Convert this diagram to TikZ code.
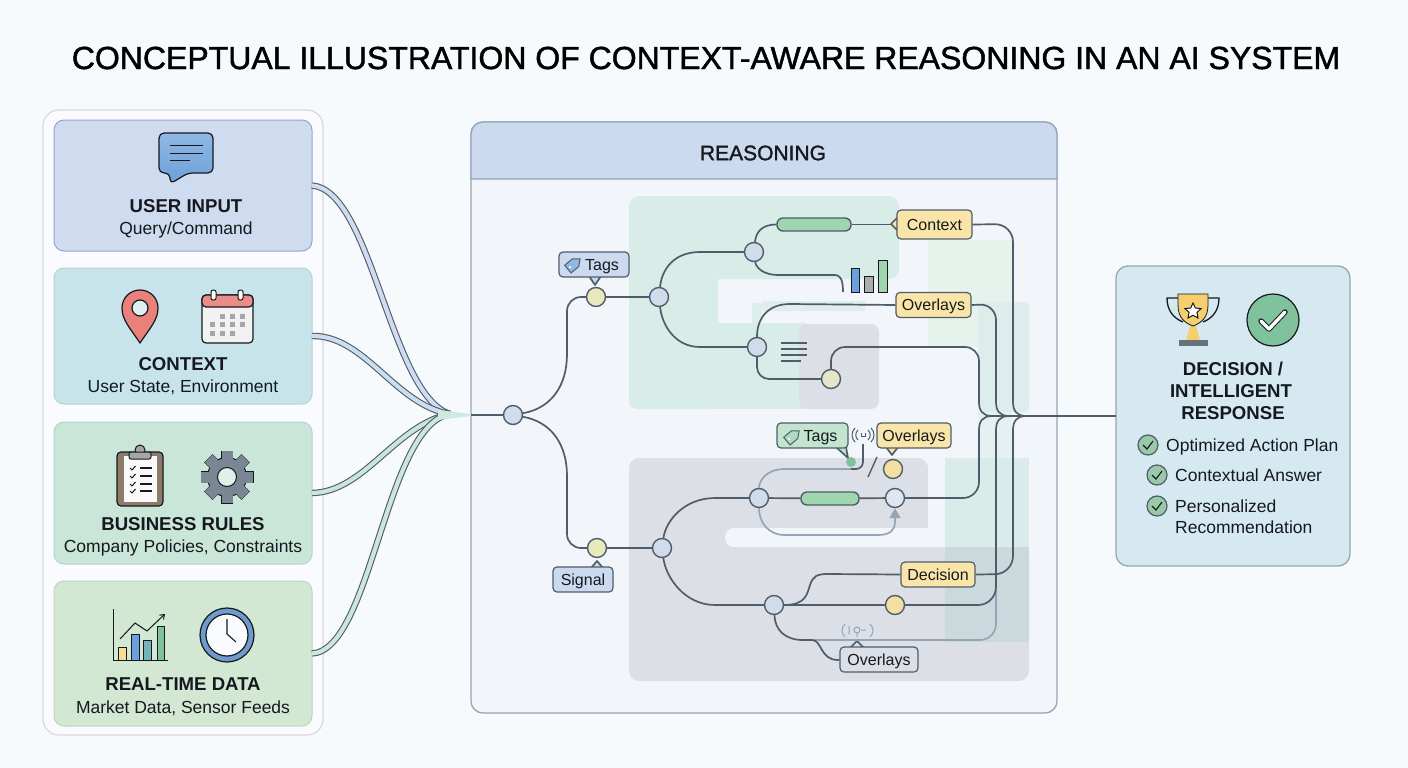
\documentclass[tikz,border=0pt]{standalone}
\usepackage{fontspec}
\usetikzlibrary{arrows.meta}
\setmainfont{Liberation Sans}
\newfontfamily\titleFace[FakeBold=1.4]{Liberation Sans}
\newcommand{\titleSize}{\fontsize{32}{36}\titleFace}
\newcommand{\panelSize}{\fontsize{21}{24}\titleFace}
\newcommand{\headSize}{\fontsize{18.6}{22}\selectfont\bfseries}
\newcommand{\bodySize}{\fontsize{17.5}{21}\selectfont}
\newcommand{\tagSize}{\fontsize{16}{18}\selectfont}
\newcommand{\wireWidth}{1.7pt}
\definecolor{pageBack}{HTML}{F6FAFD}
\definecolor{panelBack}{HTML}{F2F5FA}
\definecolor{wireDark}{HTML}{4F5D6B}
\definecolor{wireLight}{HTML}{96A5B6}
\definecolor{inkDark}{HTML}{15191F}
\definecolor{blockMint}{HTML}{D8ECE8}
\definecolor{blockGrey}{HTML}{DCDFE6}
\definecolor{blockPale}{HTML}{E6F2EC}
\definecolor{blockDeep}{HTML}{C9D9DC}
\definecolor{nodeBlue}{HTML}{D0DBEC}
\definecolor{nodeYellow}{HTML}{E9E7BC}
\definecolor{nodeGold}{HTML}{F3DFA0}
\definecolor{tagYellow}{HTML}{FAE5A8}
\definecolor{tagBlue}{HTML}{CBDAEE}
\definecolor{tagGreen}{HTML}{C4E4CF}
\definecolor{pillGreen}{HTML}{9FD6B0}
\definecolor{cardBlue}{HTML}{CFDCF0}
\definecolor{cardTeal}{HTML}{C6E4EA}
\definecolor{cardMint}{HTML}{C9E6D9}
\definecolor{cardGreen}{HTML}{D2E8D3}
\definecolor{cardOut}{HTML}{D6E9F1}
\definecolor{gearGrey}{HTML}{7A8693}
\definecolor{redSoft}{HTML}{E9807A}
\definecolor{iconBlue}{HTML}{6BA0DA}
\definecolor{iconTeal}{HTML}{74B3BA}
\definecolor{iconGreen}{HTML}{7FC29B}
\definecolor{iconGold}{HTML}{F5CF6E}
\definecolor{boardBrown}{HTML}{8C7B69}

\begin{document}
\begin{tikzpicture}[x=1pt,y=-1pt]
\tikzstyle{sideCard}=[rounded corners=10pt,minimum width=258pt,draw,line width=1pt,outer sep=0pt]
\tikzstyle{wire}=[draw=wireDark,line width=\wireWidth]
\tikzstyle{softWire}=[draw=wireLight,line width=\wireWidth]
\tikzstyle{tube}=[draw=wireDark,line width=1.1pt,double distance=4.2pt]
\tikzstyle{hubBlue}=[circle,draw=wireDark,line width=1.4pt,fill=nodeBlue,minimum size=19pt,inner sep=0pt]
\tikzstyle{hubYellow}=[hubBlue,fill=nodeYellow]
\tikzstyle{tagBox}=[rectangle,rounded corners=4pt,draw=wireDark,line width=1.2pt,minimum height=25pt,inner sep=0pt,text=inkDark,font=\tagSize,text height=11.5pt,text depth=0pt]
\tikzstyle{pillBar}=[rectangle,rounded corners=6pt,draw=wireDark,line width=1.4pt,fill=pillGreen,inner sep=0pt,minimum height=13pt]
\tikzstyle{headText}=[text=inkDark,font=\headSize,inner sep=0pt,text height=13.4pt,text depth=0pt]
\tikzstyle{bodyText}=[text=inkDark,font=\bodySize,inner sep=0pt,text height=12.6pt,text depth=0pt]
\tikzstyle{listText}=[bodyText,anchor=west]
\tikzstyle{iconLine}=[draw=inkDark,line width=1pt]
\tikzstyle{checkDot}=[circle,draw=wireDark,line width=1.2pt,fill=pillGreen!85!gray,minimum size=20pt,inner sep=0pt]
\tikzstyle{bar}=[draw=inkDark,line width=0.9pt]

\fill[pageBack] (0,0) rectangle (1408,768);
\node[text=black,font=\titleSize,inner sep=0pt] (titleText) at (706,58) {CONCEPTUAL ILLUSTRATION OF CONTEXT-AWARE REASONING IN AN AI SYSTEM};

\draw[draw=black!15,fill=white!30!pageBack,line width=1.2pt,rounded corners=16pt] (43,110) rectangle (323,735);
\node[sideCard,minimum height=131pt,fill=cardBlue,draw=cardBlue!80!blue!70!gray] (cardUser) at (183,185.5) {};
\node[sideCard,minimum height=136pt,fill=cardTeal,draw=cardTeal!80!gray] (cardContext) at (183,336) {};
\node[sideCard,minimum height=142pt,fill=cardMint,draw=cardMint!80!gray] (cardRules) at (183,493) {};
\node[sideCard,minimum height=145pt,fill=cardGreen,draw=cardGreen!80!gray] (cardData) at (183,653.5) {};
\node[headText] (userHead) at (186,206) {USER INPUT};
\node[bodyText] (userBody) at (186,228) {Query/Command};
\node[headText] (contextHead) at (183,364) {CONTEXT};
\node[bodyText] (contextBody) at (183,386) {User State, Environment};
\node[headText] (rulesHead) at (183,524) {BUSINESS RULES};
\node[bodyText] (rulesBody) at (183,546) {Company Policies, Constraints};
\node[headText] (dataHead) at (183,684) {REAL-TIME DATA};
\node[bodyText] (dataBody) at (183,707) {Market Data, Sensor Feeds};

% chat icon
\draw[iconLine,top color=iconBlue!75!white,bottom color=iconBlue,line width=1.2pt,rounded corners=5pt] (159,133) -- (213,133) -- (213,173) -- (188,173) -- (170,184) -- (170,173) -- (159,173) -- cycle;
\draw[iconLine] (170,145) -- (203,145) (170,153) -- (203,153) (170,160) -- (190,160);
% pin and calendar
\draw[iconLine,fill=redSoft,line width=1.2pt] (140,343) .. controls (130,328) and (122,320) .. (122,308) .. controls (122,298) and (130,290) .. (140,290) .. controls (150,290) and (158,298) .. (158,308) .. controls (158,320) and (150,328) .. (140,343) -- cycle;
\draw[iconLine,fill=cardTeal!60!white,line width=1.2pt] (140,308) circle (8);
\draw[iconLine,fill=white!90!gray,line width=1.2pt,rounded corners=4pt] (202,295) rectangle (253,343);
\draw[iconLine,fill=redSoft!90!white,line width=1.2pt,rounded corners=4pt] (202,295) -- (253,295) -- (253,307) -- (202,307) -- cycle;
\draw[iconLine,fill=white,rounded corners=2pt] (211,290) rectangle (216,300);
\draw[iconLine,fill=white,rounded corners=2pt] (238,290) rectangle (243,300);
\foreach \cx/\cy in {222/316,232/316,242/316,212/324,222/324,232/324,242/324,212/333,222/333,232/333}
  \fill[black!35] (\cx-2.5,\cy-2.5) rectangle (\cx+2.5,\cy+2.5);
% clipboard and gear
\draw[iconLine,fill=boardBrown,line width=1.2pt,rounded corners=4pt] (117,452) rectangle (163,506);
\fill[white!95!gray] (124,456) rectangle (157,502);
\draw[iconLine,fill=black!35,line width=1pt] (140,450) circle (5);
\draw[iconLine,fill=black!35,rounded corners=2pt] (129,452) rectangle (151,459);
\foreach \cy in {468,476,484,491} {
  \draw[iconLine] (130,\cy) -- (132,\cy+2) -- (135.5,\cy-2);
  \draw[iconLine,line width=1.2pt] (140,\cy) -- (152,\cy);
}
\foreach \a in {0,45,...,315}
  \draw[iconLine,fill=gearGrey,rotate around={\a:(227,477)}] (221.5,451) rectangle (232.5,462);
\draw[iconLine,fill=gearGrey] (227,477) circle (19.5);
\foreach \a in {0,45,...,315}
  \fill[gearGrey,rotate around={\a:(227,477)}] (221.5,451) rectangle (232.5,462);
\draw[iconLine,fill=cardMint!60!white,line width=1pt] (227,477) circle (9.5);
% chart and clock
\draw[bar,fill=tagYellow!90!orange] (118,647) rectangle (126,660);
\draw[bar,fill=iconBlue] (131,634) rectangle (139,660);
\draw[bar,fill=iconTeal] (143,640) rectangle (151,660);
\draw[bar,fill=iconGreen] (157,626) rectangle (164,660);
\draw[iconLine] (113,609) -- (113,660) -- (168,660);
\draw[iconLine,-{Straight Barb[length=4pt,width=6pt]}] (120,639) -- (135,623) -- (147,631) -- (165,614);
\draw[iconLine,fill=iconBlue!85!gray,line width=1.2pt] (227,635) circle (27);
\draw[iconLine,fill=white!90!cardBlue,line width=1.2pt] (227,635) circle (21);
\draw[iconLine,line width=1.1pt] (227,619) -- (227,634) -- (236,642);

% reasoning panel
\draw[draw=wireLight,fill=panelBack,line width=1.3pt,rounded corners=12pt] (471,122) rectangle (1057,713);
\draw[draw=wireLight,fill=tagBlue,line width=1.3pt] (471,179) [rounded corners=12pt] -- (471,122) -- (1057,122) [sharp corners] -- (1057,179) -- cycle;
\node[text=inkDark,font=\panelSize,inner sep=0pt] (panelHead) at (763,153) {REASONING};
\fill[blockMint,rounded corners=10pt] (629,196) rectangle (899,279);
\fill[blockMint,rounded corners=8pt] (629,260) rectangle (718,409);
\fill[blockMint] (710,323) rectangle (805,409);
\fill[blockMint!80!panelBack] (752,303) rectangle (762,323);
\fill[blockMint!80!panelBack] (762,301) rectangle (865,311);
\fill[blockGrey,rounded corners=8pt] (799,324) rectangle (879,409);
\fill[blockPale] (928,240) rectangle (1012,347);
\fill[blockMint!85!panelBack,rounded corners=6pt] (978,302) rectangle (1029,412);
\fill[blockMint!50!panelBack] (978,412) rectangle (1012,458);
\fill[blockGrey,rounded corners=10pt] (629,458) rectangle (928,560);
\fill[blockGrey,rounded corners=10pt] (629,547) rectangle (1029,681);
\fill[blockGrey] (629,480) rectangle (730,600);
\fill[panelBack,rounded corners=9pt] (725,528) rectangle (955,547);
\fill[panelBack] (928,528) rectangle (945,547);
\fill[blockMint!95!panelBack] (945,458) rectangle (1029,547);
\fill[blockDeep] (945,547) rectangle (1029,642);

% input tubes
\coordinate (tubeJoin) at (450,414);
\coordinate (panelIn) at (471,415);
\draw[tube,double=cardBlue] (cardUser.east) .. controls (372,190) and (390,395) .. (tubeJoin);
\draw[tube,double=cardBlue!70!cardTeal] (cardContext.east) .. controls (365,335) and (395,405) .. (tubeJoin);
\draw[tube,double=cardMint] (cardRules.east) .. controls (365,492) and (395,425) .. (tubeJoin);
\draw[tube,double=cardMint!70!cardGreen] (cardData.east) .. controls (372,650) and (385,425) .. (tubeJoin);
\fill[cardMint!85!white] (438,410) -- (455,412) -- (471,414) -- (471,416) -- (455,418) -- (438,420) -- cycle;

% hubs, bars and tags
\node[hubBlue] (n-0-0) at (513,415) {};
\node[hubYellow] (n-1-0) at (596,297) {};
\node[hubYellow] (n-1-1) at (597,548) {};
\node[hubBlue] (n-2-0) at (659,297) {};
\node[hubBlue] (n-2-1) at (662,548) {};
\node[hubBlue] (n-3-0) at (754,252) {};
\node[hubBlue] (n-3-1) at (757,347) {};
\node[hubBlue] (n-3-2) at (759,498) {};
\node[hubBlue] (n-3-3) at (774,605) {};
\node[hubYellow,fill=nodeYellow!70!blockGrey] (n-4-0) at (831,379) {};
\node[hubBlue,fill=nodeBlue!70!white] (n-4-1) at (895,498) {};
\node[hubYellow,fill=nodeGold] (n-4-2) at (895,605) {};
\node[hubYellow,fill=nodeGold] (n-4-3) at (893,469) {};
\node[pillBar,minimum width=74pt] (pillTop) at (814,224.5) {};
\node[pillBar,minimum width=58pt] (pillMid) at (830,498.5) {};

\draw[wire,fill=tagBlue,line join=round] (589,276) -- (595,285) -- (601,276);
\draw[wire,fill=tagYellow,line join=round] (898,217) -- (891,224) -- (898,231);
\draw[wire,fill=tagGreen,line join=round] (836,447) -- (848,458) -- (846,447);
\draw[wire,fill=tagYellow,line join=round] (886,447) -- (892,455) -- (898,447);
\draw[wire,fill=tagBlue,line join=round] (591,568) -- (597,561) -- (603,568);
\draw[wire,fill=blockGrey,line join=round] (850,648) -- (857,641) -- (864,648);
\node[tagBox,fill=tagBlue,minimum width=70pt] (tagsTop) at (594,264.5) {\hspace{16pt}Tags};
\node[tagBox,fill=tagYellow,minimum width=75pt,minimum height=29pt] (contextTag) at (934.5,224.5) {Context};
\node[tagBox,fill=tagYellow,minimum width=75pt] (overlaysTop) at (933.5,305) {Overlays};
\node[tagBox,fill=tagGreen,minimum width=71pt] (tagsMid) at (812.5,435.5) {\hspace{16pt}Tags};
\node[tagBox,fill=tagYellow,minimum width=74pt] (overlaysMid) at (914,435.5) {Overlays};
\node[tagBox,fill=tagYellow,minimum width=74pt] (decisionTag) at (938,574.5) {Decision};
\node[tagBox,fill=tagBlue,minimum width=60pt] (signalTag) at (583,579.5) {Signal};
\node[tagBox,fill=blockGrey,minimum width=78pt] (overlaysLow) at (879,659.5) {Overlays};

% tag glyphs
\draw[iconLine,draw=wireDark,fill=iconBlue!60!tagBlue,rotate around={40:(574,264)}] (566,259) -- (576,259) -- (582,264) -- (576,269) -- (566,269) -- cycle;
\fill[white,rotate around={40:(574,264)}] (569,264) circle (1.3);
\draw[iconLine,draw=wireDark,fill=tagGreen!70!iconGreen,rotate around={40:(793,436)}] (785,431) -- (795,431) -- (801,436) -- (795,441) -- (785,441) -- cycle;
\fill[white,rotate around={40:(793,436)}] (788,436) circle (1.3);

% output card
\node[rounded corners=12pt,draw=wireLight,fill=cardOut,line width=1.3pt,minimum width=234pt,minimum height=300pt,outer sep=0pt] (outCard) at (1233,416) {};
\node[headText] (outHeadA) at (1233,369) {DECISION /};
\node[headText] (outHeadB) at (1231,391) {INTELLIGENT};
\node[headText] (outHeadC) at (1233,413) {RESPONSE};
\node[checkDot] (checkA) at (1148,445) {};
\node[checkDot] (checkB) at (1157,475) {};
\node[checkDot] (checkC) at (1157,506) {};
\foreach \dotName in {checkA,checkB,checkC}
  \draw[iconLine,line width=1.1pt] ([xshift=-5pt,yshift=0pt]\dotName.center) -- ([xshift=-1pt,yshift=-4pt]\dotName.center) -- ([xshift=5pt,yshift=4pt]\dotName.center);
\node[listText] (itemA) at (1166,445) {Optimized Action Plan};
\node[listText] (itemB) at (1175,475) {Contextual Answer};
\node[listText] (itemC) at (1175,506) {Personalized};
\node[listText] (itemD) at (1175,527) {Recommendation};
% trophy and tick
\draw[iconLine,line width=1.3pt] (1179,298) -- (1167,298) .. controls (1167,310) and (1173,318) .. (1183,322);
\draw[iconLine,line width=1.3pt] (1207,298) -- (1219,298) .. controls (1219,310) and (1213,318) .. (1203,322);
\fill[iconGold] (1186,340) -- (1200,340) -- (1197,330) -- (1196,325) -- (1190,325) -- (1189,330) -- cycle;
\draw[iconLine,fill=iconGold,line width=0.8pt] (1178,294) -- (1208,294) -- (1208,305) .. controls (1208,318) and (1201,323) .. (1193,326) .. controls (1185,323) and (1178,318) .. (1178,305) -- cycle;
\draw[iconLine,fill=white] (1193,303) -- (1195.4,308) -- (1201,308.6) -- (1197,312.4) -- (1198,318) -- (1193,315.3) -- (1188,318) -- (1189,312.4) -- (1185,308.6) -- (1190.6,308) -- cycle;
\fill[gearGrey!85!black] (1179,340) rectangle (1208,346);
\node[circle,draw=inkDark,line width=1.2pt,fill=iconGreen,minimum size=52pt,inner sep=0pt] (tickBadge) at (1273,320) {};
\draw[draw=inkDark,line width=5.4pt,line cap=round,line join=round] (1261,321) -- (1269,329) -- (1285,312);
\draw[draw=white,line width=3.4pt,line cap=round,line join=round] (1261,321) -- (1269,329) -- (1285,312);

% bars and list marks inside reasoning
\draw[bar,fill=iconBlue] (851,268) rectangle (859,292);
\draw[bar,fill=black!32] (864,276) rectangle (873,292);
\draw[bar,fill=pillGreen] (878,260) rectangle (887,292);
\draw[wire,line width=1.3pt] (781,343) -- (807,343) (781,349) -- (807,349) (781,355) -- (807,355) (781,361) -- (801,361);

% soft wires
\coordinate (softStart) at (812,640);
\coordinate (softEnd) at (996,590);
\coordinate (loopEnd) at (852,469);
\draw[softWire,rounded corners=16pt] (softStart) -- (996,640) -- (softEnd);
\draw[softWire] (n-3-2) .. controls (759,482) and (765,469) .. (785,469) -- (loopEnd);
\draw[softWire] (n-3-2) .. controls (759,522) and (768,535) .. (785,535) -- (878,535) .. controls (890,535) and (895,530) .. (895,522);
\draw[-{Triangle[width=11pt,length=10pt]},draw=wireLight,fill=wireLight,line width=\wireWidth] (895,522) -- (n-4-1);

% wires
\coordinate (panelOut) at (1040,416);
\coordinate (barEnd) at (843,292);
\draw[wire] (panelIn) -- (n-0-0);
\draw[wire,rounded corners=14pt] (n-0-0) .. controls (552,408) and (567,385) .. (567,340) -- (567,297) -- (n-1-0);
\draw[wire,rounded corners=14pt] (n-0-0) .. controls (552,422) and (567,445) .. (567,490) -- (567,548) -- (n-1-1);
\draw[wire] (n-1-0) -- (n-2-0);
\draw[wire] (n-1-1) -- (n-2-1);
\draw[wire] (n-2-0) .. controls (662,268) and (675,252) .. (700,252) -- (n-3-0);
\draw[wire] (n-2-0) .. controls (662,325) and (675,347) .. (700,347) -- (n-3-1);
\draw[wire] (n-3-0) .. controls (756,232) and (762,224.5) .. (pillTop.west);
\draw[wire] (pillTop.east) -- (891,224.5);
\draw[wire] (n-3-0) .. controls (756,268) and (764,275) .. (778,275) -- (835,275) .. controls (840,275) and (843,279) .. (barEnd);
\draw[wire] (n-3-1) .. controls (757,318) and (768,304) .. (790,304) -- (overlaysTop.west);
\draw[wire,rounded corners=12pt] (n-3-1) -- (757,379) -- (n-4-0);
\draw[wire] (n-4-0) [rounded corners=14pt] -- (831,347) -- (979,347) [sharp corners] -- (979,402) .. controls (979,411) and (983,416) .. (992,416) -- (panelOut);
\draw[wire] (overlaysTop.east) [rounded corners=16pt] -- (996,304) [sharp corners] -- (996,402) .. controls (996,411) and (1000,416) .. (1009,416) -- (panelOut);
\draw[wire] (contextTag.east) [rounded corners=18pt] -- (1013,224) [sharp corners] -- (1013,402) .. controls (1013,411) and (1017,416) .. (1026,416) -- (panelOut);
\draw[wire] (panelOut) -- (outCard.west);
\draw[wire] (n-4-1) [rounded corners=16pt] -- (979,498) [sharp corners] -- (979,430) .. controls (979,421) and (983,416) .. (992,416);
\draw[wire] (n-4-2) [rounded corners=18pt] -- (996,605) [sharp corners] -- (996,430) .. controls (996,421) and (1000,416) .. (1009,416);
\draw[wire] (decisionTag.east) [rounded corners=18pt] -- (1013,574) [sharp corners] -- (1013,430) .. controls (1013,421) and (1017,416) .. (1026,416);
\draw[wire] (n-3-2) -- (pillMid);
\draw[wire] (pillMid) -- (n-4-1);
\draw[wire] (n-2-1) .. controls (666,520) and (685,498) .. (715,498) -- (n-3-2);
\draw[wire] (n-2-1) .. controls (666,578) and (685,605) .. (715,605) -- (n-3-3);
\draw[wire] (n-3-3) -- (n-4-2);
\draw[wire] (n-3-3.east) .. controls (806,605) and (807,594) .. (810,585) .. controls (813,576) and (817,574) .. (828,574) -- (decisionTag.west);
\draw[wire] (n-3-3) .. controls (775,630) and (785,640) .. (803,640) -- (812,640) .. controls (822,640) and (820,660) .. (838,660) -- (overlaysLow.west);

% signal marks
\node[circle,fill=iconGreen,minimum size=10pt,inner sep=0pt] (dotGreen) at (851,462) {};
\draw[wire,rounded corners=7pt] (863,444) -- (863,469) -- (dotGreen |- 0,469);
\draw[wireDark,line width=1pt] (855,428) .. controls (851,432) and (851,438) .. (855,442) (858,430) .. controls (855,433) and (855,437) .. (858,440) (871,428) .. controls (875,432) and (875,438) .. (871,442) (868,430) .. controls (871,433) and (871,437) .. (868,440);
\draw[wireDark,line width=1pt] (861,433) -- (861,436) -- (865,436) -- (865,433);
\draw[draw=wireDark,line width=1.4pt] (868,477) -- (877,457);
\draw[wireLight,line width=1pt] (845,624) .. controls (841,628) and (841,633) .. (845,637) (870,624) .. controls (874,628) and (874,633) .. (870,637) (849,626) -- (849,634);
\draw[wireLight,line width=1pt] (857,630) circle (3) (857,633) -- (857,637) (861,630) -- (866,630);
\end{tikzpicture}
\end{document}
